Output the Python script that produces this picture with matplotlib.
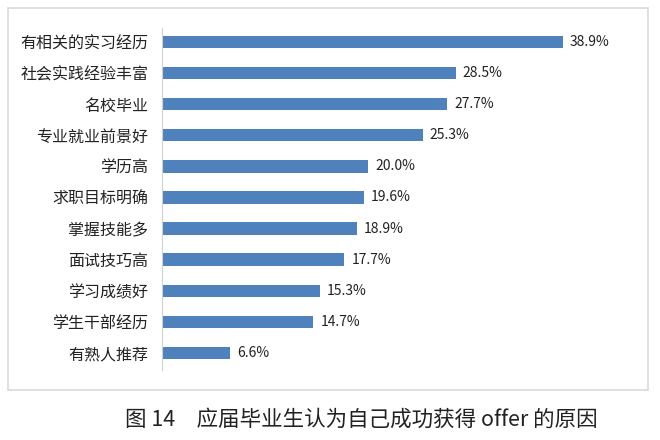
import matplotlib.pyplot as plt
from matplotlib.patches import Rectangle

plt.rcParams['font.family'] = ['Noto Sans CJK SC', 'DejaVu Sans']

reasons = ['有相关的实习经历', '社会实践经验丰富', '名校毕业', '专业就业前景好', '学历高',
           '求职目标明确', '掌握技能多', '面试技巧高', '学习成绩好', '学生干部经历', '有熟人推荐']
shares = [38.9, 28.5, 27.7, 25.3, 20.0, 19.6, 18.9, 17.7, 15.3, 14.7, 6.6]

fig = plt.figure(figsize=(6.6, 4.4), dpi=100)

# light grey frame round the chart area
fig.patches.append(Rectangle((8 / 660, 1 - 390 / 440), 640 / 660, 382 / 440,
                             transform=fig.transFigure, fill=False,
                             edgecolor='#d9d9d9', linewidth=1.2))

ax = fig.add_axes([162 / 660, 1 - 370 / 440, 478 / 660, 342 / 440])
pos = list(range(len(reasons)))
ax.barh(pos, shares, height=0.4, color='#4f81bd')

for y, v in zip(pos, shares):
    ax.text(v + 0.7, y, f'{v:.1f}%', va='center', ha='left', fontsize=10, color='#222222')

ax.set_yticks(pos)
ax.set_yticklabels(reasons, fontsize=11.5, color='#222222')
ax.tick_params(axis='y', length=0, pad=10)
ax.set_xticks([])
ax.set_xlim(0, 46.4)
ax.set_ylim(10.55, -0.45)
for s in ['top', 'right', 'bottom']:
    ax.spines[s].set_visible(False)
ax.spines['left'].set_color('#d0d0d0')

fig.text(361 / 660, 1 - 420 / 440, '图 14　应届毕业生认为自己成功获得 offer 的原因',
         ha='center', va='center', fontsize=15.5, color='#222222')

fig.savefig('out.png', dpi=100)
